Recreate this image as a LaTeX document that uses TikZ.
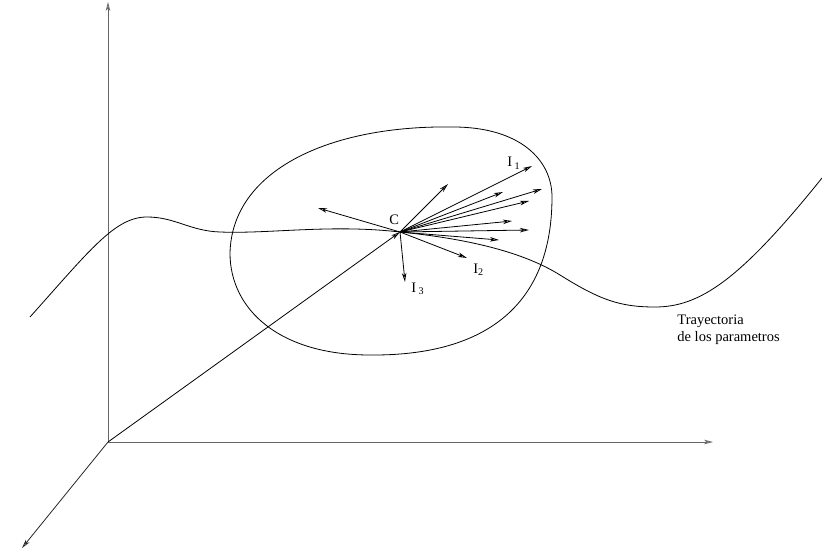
\documentclass[tikz,border=0pt]{standalone}
\usepackage{fontspec}
\setmainfont{Liberation Serif}
\usetikzlibrary{arrows.meta}

\begin{document}
\begin{tikzpicture}[
    x=1pt,
    y=-1pt,
    >={Stealth[length=9pt,width=4.5pt,inset=2.5pt,open]},
    line width=0.8pt,
    eje/.style={->, black!60},
    etiq/.style={inner sep=0pt, anchor=base west, font=\fontsize{14.5}{17}\selectfont}
]
    \useasboundingbox (0,0) rectangle (822,556);

    % Ejes
    \coordinate (O) at (108,442);
    \coordinate (ejez) at (108,2);
    \coordinate (ejex) at (713,442);
    \coordinate (ejey) at (22,548);
    \draw[eje] (O) -- (ejez);
    \draw[eje] (O) -- (ejex);
    \draw[eje, black!85] (O) -- (ejey);

    % Centro
    \coordinate (C) at (400,232);
    \draw[->] (O) -- (C);
    \node[etiq] (lC) at (389,225) {C};

    % Elipsoide
    \draw (230,253) .. controls (232,170) and (330,125) .. (453,127)
        .. controls (520,127) and (552,160) .. (552,197)
        .. controls (552,310) and (480,356) .. (370,355)
        .. controls (280,355) and (230,310) .. (230,253) -- cycle;

    % Trayectoria
    \draw (30,317) .. controls (90,250) and (115,217) .. (147,217)
        .. controls (175,217) and (190,231) .. (220,232)
        .. controls (270,234) and (330,224) .. (400,232)
        .. controls (460,238) and (520,250) .. (560,275)
        .. controls (600,300) and (620,307) .. (655,307)
        .. controls (700,307) and (740,280) .. (822,178);
    \node[etiq, align=left, anchor=north west] (tray) at (677,314)
        {Trayectoria\\de los parametros};

    % Direcciones
    \foreach \nom/\px/\py in {d1/318/208, d2/448/184, I1/532/166,
        d4/503/192, d5/542/189, d6/529/201, d7/512/221, d8/529/230,
        d9/499/240, I2/467/258, I3/405/282}{
        \coordinate (\nom) at (\px,\py);
        \draw[->] (C) -- (\nom);
    }

    % Ejes principales
    \node[etiq] (lI1) at (507,167) {I\,\textsubscript{1}};
    \node[etiq] (lI2) at (473,273) {I\textsubscript{2}};
    \node[etiq] (lI3) at (411,292) {I\,\textsubscript{3}};

\end{tikzpicture}
\end{document}
